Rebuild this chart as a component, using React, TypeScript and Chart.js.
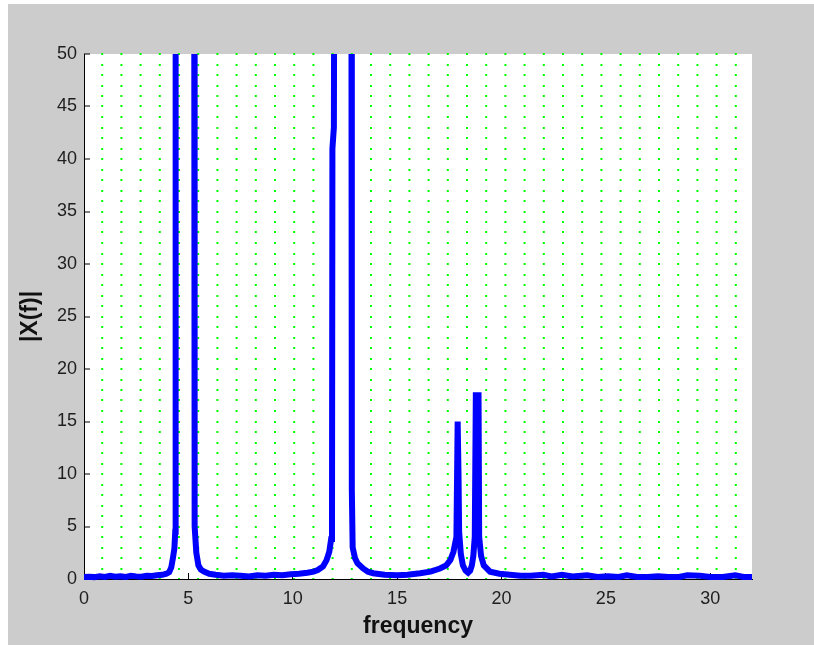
import React, { useEffect, useRef } from "react";
import { Chart, registerables } from "chart.js";

Chart.register(...registerables);

// Frequency axis samples (Hz) and spectrum magnitude |X(f)|
const freqs = [
  0, 0.25, 0.5, 0.75, 1.0, 1.25, 1.5, 1.75, 2.0, 2.25, 2.5, 2.75, 3.0, 3.25, 3.5, 3.75, 3.95,
  4.08, 4.18, 4.26, 4.33, 4.37, 4.39, 4.85, 5.28, 5.3, 5.38, 5.48, 5.6, 5.75, 6.0, 6.3,
  6.7, 7.1, 7.5, 7.9, 8.3, 8.7, 9.1, 9.5, 9.9, 10.3, 10.7, 11.0, 11.2, 11.45, 11.62, 11.75,
  11.84, 11.88, 11.9, 11.97, 11.99, 12.4, 12.81, 12.83, 12.87, 12.98, 13.1, 13.37, 13.6,
  13.85, 14.4, 15.0, 15.5, 16.1, 16.6, 17.05, 17.35, 17.55, 17.7, 17.84, 17.9, 17.94, 17.97,
  18.05, 18.15, 18.28, 18.4, 18.5, 18.58, 18.65, 18.72, 18.77, 18.9, 18.93, 19.02, 19.15,
  19.45, 19.9, 20.4, 20.9, 21.4, 22.0, 22.4, 22.9, 23.4, 24.1, 24.6, 25.1, 25.6, 26.0, 26.5,
  27.0, 27.5, 28.0, 28.5, 28.9, 29.5, 30.0, 30.6, 31.2, 31.6, 32.0,
];
const mags = [
  0.2, 0.22, 0.18, 0.25, 0.2, 0.3, 0.22, 0.25, 0.2, 0.3, 0.25, 0.22, 0.3, 0.28, 0.35, 0.4, 0.5,
  0.65, 1.1, 2.0, 2.9, 4.5, 60, 500, 60, 5.0, 2.5, 1.3, 0.9, 0.7, 0.5, 0.4,
  0.3, 0.35, 0.3, 0.25, 0.35, 0.3, 0.4, 0.35, 0.45, 0.5, 0.6, 0.7, 0.85, 1.2, 1.8, 2.6,
  3.8, 5.0, 41, 43, 60, 500, 60, 8.5, 3.0, 2.0, 1.5, 1.0, 0.7,
  0.55, 0.4, 0.35, 0.4, 0.55, 0.7, 1.0, 1.3, 1.8, 2.6, 4.0, 15.0, 10.0, 4.5,
  2.4, 1.3, 0.8, 0.6, 0.8, 1.3, 2.2, 4.0, 17.5, 17.5, 4.0, 2.2, 1.3,
  0.7, 0.5, 0.4, 0.3, 0.3, 0.4, 0.25, 0.4, 0.25, 0.35, 0.2, 0.25, 0.2, 0.35, 0.2,
  0.2, 0.25, 0.2, 0.2, 0.35, 0.3, 0.2, 0.2, 0.35, 0.2, 0.2,
];

const xTickValues = [0, 5, 10, 15, 20, 25, 30];
const yTickValues = [0, 5, 10, 15, 20, 25, 30, 35, 40, 45, 50];
const yGridRows = Array.from({ length: 51 }, (_, i) => i);

const xLabel = "frequency";
const yLabel = "|X(f)|";

const FONT = "'Liberation Sans', Arial, sans-serif";

export default function App() {
  const ref = useRef<HTMLCanvasElement>(null);

  useEffect(() => {
    if (!ref.current) return;
    const chart = new Chart(ref.current, {
      type: "line",
      data: {
        datasets: [
          {
            data: freqs.map((f, i) => ({ x: f, y: mags[i] })),
            borderColor: "#0000ff",
            borderWidth: 6,
            pointRadius: 0,
            tension: 0,
            fill: false,
            clip: { left: 0, top: 0, right: 0, bottom: 4 } as any,
          },
        ],
      },
      options: {
        animation: false,
        responsive: false,
        events: [],
        layout: { padding: { left: 0, top: 50, right: 62, bottom: 0 } },
        plugins: { legend: { display: false }, tooltip: { enabled: false } },
        scales: {
          x: {
            type: "linear",
            min: 0,
            max: 32,
            afterBuildTicks: (s: any) => {
              s.ticks = xTickValues.map((v) => ({ value: v }));
            },
            afterFit: (s: any) => {
              s.height = 66;
            },
            grid: {
              drawOnChartArea: false,
              drawTicks: true,
              tickLength: -6,
              tickColor: "#000",
              tickWidth: 1,
            },
            border: { display: true, color: "#000", width: 1 },
            ticks: {
              autoSkip: false,
              maxRotation: 0,
              padding: 15,
              color: "#1e1e1e",
              font: { family: FONT, size: 18 },
            },
            title: {
              display: true,
              text: xLabel,
              color: "#111",
              font: { family: FONT, size: 23, weight: "bold" },
              padding: { top: 0, bottom: 5 },
            },
          },
          y: {
            type: "linear",
            min: 0,
            max: 50,
            afterBuildTicks: (s: any) => {
              s.ticks = yGridRows.map((v) => ({ value: v }));
            },
            afterFit: (s: any) => {
              s.width = 76;
            },
            grid: {
              color: "#00ff00",
              lineWidth: 2,
              drawTicks: true,
              tickLength: -6,
              tickWidth: 1,
              tickColor: (ctx: any) =>
                ctx.tick && yTickValues.includes(ctx.tick.value) ? "#000" : "rgba(0,0,0,0)",
            },
            border: { display: true, color: "#000", width: 1, dash: [2, 17.2], dashOffset: 3.0 },
            ticks: {
              autoSkip: false,
              padding: 13,
              color: "#1e1e1e",
              font: { family: FONT, size: 18 },
              callback: (v: any) => (yTickValues.includes(Number(v)) ? String(v) : ""),
            },
            title: {
              display: true,
              text: yLabel,
              color: "#111",
              font: { family: FONT, size: 23, weight: "bold" },
              padding: { top: 9, bottom: 0 },
            },
          },
        },
      },
    });
    return () => chart.destroy();
  }, []);

  return (
    <div
      style={{
        position: "absolute",
        left: 8,
        top: 4,
        width: 806,
        height: 641,
        background: "#cccccc",
      }}
    >
      <div
        style={{
          position: "absolute",
          left: 76,
          top: 50,
          width: 668,
          height: 525,
          background: "#ffffff",
        }}
      />
      <canvas ref={ref} width={806} height={641} style={{ position: "absolute", left: 0, top: 0 }} />
    </div>
  );
}
